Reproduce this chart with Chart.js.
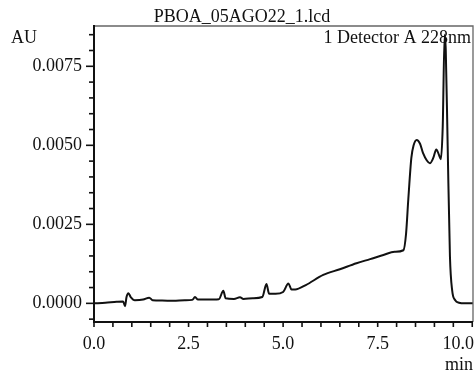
<!DOCTYPE html>
<html>
<head>
<meta charset="utf-8">
<script src="https://cdn.jsdelivr.net/npm/chart.js@4/dist/chart.umd.min.js"></script>
<style>
html,body{margin:0;padding:0;background:#fff;}
#wrap{width:475px;height:375px;}
</style>
</head>
<body>
<div id="wrap"><canvas id="c" width="475" height="375"></canvas></div>
<script>
// Retention time (min)
const timeMin = [0.00,0.30,0.60,0.77,0.82,0.86,0.91,0.97,1.08,1.30,1.46,1.55,1.80,2.10,2.40,2.60,2.67,2.75,3.00,3.30,3.42,3.48,3.70,3.86,3.95,4.20,4.45,4.56,4.63,4.80,5.00,5.14,5.22,5.32,5.60,6.06,6.50,6.94,7.30,7.65,7.95,8.18,8.25,8.31,8.39,8.45,8.53,8.62,8.70,8.80,8.88,8.97,9.05,9.12,9.17,9.22,9.27,9.30,9.35,9.41,9.47,9.55,9.65,9.80,10.02];
// Absorbance (AU), Detector A 228nm
const absorbanceAU = [0.00000,0.00002,0.00005,0.00006,-0.00009,0.00020,0.00032,0.00020,0.00010,0.00012,0.00018,0.00010,0.00009,0.00008,0.00010,0.00011,0.00020,0.00012,0.00012,0.00013,0.00040,0.00016,0.00014,0.00019,0.00014,0.00016,0.00020,0.00061,0.00030,0.00030,0.00036,0.00063,0.00044,0.00044,0.00058,0.00090,0.00108,0.00127,0.00140,0.00153,0.00163,0.00168,0.00220,0.00330,0.00460,0.00500,0.00517,0.00505,0.00475,0.00452,0.00443,0.00460,0.00487,0.00470,0.00456,0.00560,0.00850,0.00800,0.00500,0.00150,0.00040,0.00010,0.00002,0.00000,0.00000];
// Tick labels
const xTickLabels = ['0.0','2.5','5.0','7.5','10.0'];
const yTickLabels = ['0.0000','0.0025','0.0050','0.0075'];
const xMinorStep = 0.5;
const yMinorStep = 0.0005;

const FONT = 'Liberation Serif';
const TXT = '#111';

const points = timeMin.map((t,i)=>({x:t,y:absorbanceAU[i]}));

function buildTicks(min,max,step){
  const out=[];
  const a=Math.ceil(min/step-1e-9), b=Math.floor(max/step+1e-9);
  for(let i=a;i<=b;i++) out.push({value: Math.round(i*step*1e6)/1e6});
  return out;
}

const framePlugin = {
  id:'frame',
  afterDraw(chart){
    const {ctx, chartArea:a, scales} = chart;
    const xs=scales.x, ys=scales.y;
    ctx.save();
    ctx.strokeStyle='#666'; ctx.lineWidth=1.3;
    ctx.beginPath();
    ctx.moveTo(a.left,a.top); ctx.lineTo(a.right,a.top); ctx.lineTo(a.right,a.bottom);
    ctx.stroke();
    ctx.strokeStyle='#111'; ctx.lineWidth=2;
    ctx.beginPath();
    ctx.moveTo(a.left,a.top-1); ctx.lineTo(a.left,a.bottom); ctx.lineTo(a.right,a.bottom);
    ctx.stroke();
    ctx.lineWidth=1.6;
    ys.ticks.forEach(t=>{
      const y=ys.getPixelForValue(t.value);
      const major = yTickLabels.includes(t.value.toFixed(4));
      const len = major?8:5;
      ctx.beginPath(); ctx.moveTo(a.left-len,y); ctx.lineTo(a.left,y); ctx.stroke();
    });
    xs.ticks.forEach(t=>{
      const x=xs.getPixelForValue(t.value);
      ctx.beginPath(); ctx.moveTo(x,a.bottom); ctx.lineTo(x,a.bottom+5); ctx.stroke();
    });
    ctx.fillStyle=TXT;
    ctx.font='18px "'+FONT+'"';
    ctx.textBaseline='alphabetic';
    // x tick labels, last one kept inside the canvas
    xTickLabels.forEach(l=>{
      const x=xs.getPixelForValue(parseFloat(l));
      const w=ctx.measureText(l).width;
      let cx=Math.min(x, chart.width-1-w/2);
      ctx.textAlign='center';
      ctx.fillText(l, cx, 349);
    });
    ctx.textAlign='center';
    ctx.fillText('PBOA_05AGO22_1.lcd', 242, 22);
    ctx.textAlign='left';
    ctx.fillText('AU', 11, 43);
    ctx.textAlign='right';
    ctx.fillText('1 Detector A 228nm', 471, 43);
    ctx.fillText('min', 473, 370);
    ctx.restore();
  }
};

new Chart(document.getElementById('c'), {
  type:'line',
  data:{datasets:[{
    data:points,
    borderColor:'#111',
    borderWidth:2,
    pointRadius:0,
    fill:false,
    cubicInterpolationMode:'monotone'
  }]},
  options:{
    responsive:false,
    animation:false,
    devicePixelRatio:1,
    layout:{padding:{left:0,top:26,right:2,bottom:0}},
    plugins:{legend:{display:false},tooltip:{enabled:false},title:{display:false}},
    scales:{
      x:{
        type:'linear', min:0, max:10.02,
        border:{display:false},
        grid:{display:false, drawTicks:false},
        afterBuildTicks(s){ s.ticks = buildTicks(0,10.0,xMinorStep); },
        afterFit(s){ s.height = 53; s.paddingLeft=0; s.paddingRight=0; },
        ticks:{
          autoSkip:false, maxRotation:0, padding:13,
          color:'rgba(0,0,0,0)', font:{family:FONT,size:18},
          callback(){ return ''; }
        }
      },
      y:{
        type:'linear', min:-0.00059, max:0.008775,
        border:{display:false},
        grid:{display:false, drawTicks:false},
        afterBuildTicks(s){ s.ticks = buildTicks(-0.00059,0.008775,yMinorStep); },
        afterFit(s){ s.width = 94; s.paddingTop=0; s.paddingBottom=0; },
        ticks:{
          autoSkip:false, padding:12,
          color:TXT, font:{family:FONT,size:18},
          callback(v){ const l=Number(v).toFixed(4); return yTickLabels.includes(l)?l:''; }
        }
      }
    }
  },
  plugins:[framePlugin]
});
</script>
</body>
</html>
